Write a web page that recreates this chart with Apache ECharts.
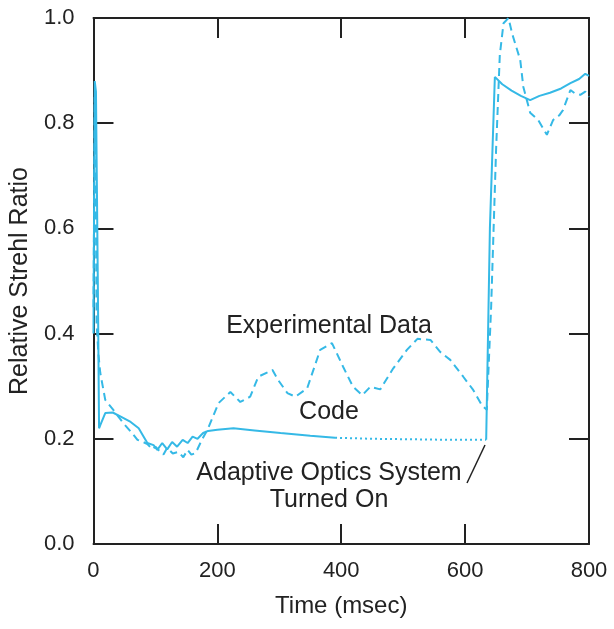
<!DOCTYPE html>
<html>
<head>
<meta charset="utf-8">
<script src="https://cdn.jsdelivr.net/npm/echarts@6/dist/echarts.min.js"></script>
<style>
html,body{margin:0;padding:0;background:#fff;}
#chart{width:614px;height:629px;}
</style>
</head>
<body>
<div id="chart"></div>
<script>
// ---- data ----
const codeT = [0, 2, 4, 7, 9, 11, 19, 31, 44, 60, 73, 81, 87, 97, 103, 111, 119, 127, 135, 144, 152, 160, 168, 177, 185, 200, 226, 260, 302, 350, 390, 450, 520, 580, 634, 640, 648, 660, 675, 690, 705, 720, 737, 755, 770, 784, 794, 800];
const codeV = [0.40, 0.88, 0.86, 0.50, 0.22, 0.226, 0.249, 0.25, 0.242, 0.232, 0.22, 0.204, 0.192, 0.188, 0.179, 0.192, 0.18, 0.194, 0.185, 0.198, 0.192, 0.204, 0.20, 0.211, 0.215, 0.217, 0.22, 0.216, 0.211, 0.206, 0.202, 0.200, 0.199, 0.198, 0.198, 0.6, 0.888, 0.874, 0.862, 0.852, 0.844, 0.852, 0.858, 0.866, 0.876, 0.884, 0.894, 0.89];
// code prediction is drawn dotted between these times
const codeDottedFrom = 390;
const codeDottedTo = 634;

const expT = [0, 2, 4, 5, 8, 11, 19, 32, 48, 63, 71, 80, 87, 95, 100, 108, 113, 119, 128, 137, 145, 152, 158, 165, 175, 184, 202, 221, 237, 253, 266, 289, 298, 313, 326, 345, 366, 385, 403, 419, 434, 447, 463, 484, 506, 523, 544, 560, 576, 597, 613, 627, 635, 642, 650, 656, 662, 670, 676, 689, 694, 705, 718, 732, 742, 752, 758, 770, 777, 786, 794, 800];
const expV = [0.45, 0.85, 0.62, 0.42, 0.36, 0.325, 0.274, 0.255, 0.23, 0.21, 0.198, 0.194, 0.19, 0.18, 0.185, 0.175, 0.17, 0.183, 0.172, 0.175, 0.165, 0.179, 0.17, 0.173, 0.198, 0.217, 0.268, 0.289, 0.27, 0.28, 0.318, 0.331, 0.312, 0.287, 0.28, 0.296, 0.369, 0.382, 0.337, 0.299, 0.283, 0.299, 0.294, 0.334, 0.369, 0.39, 0.388, 0.365, 0.35, 0.318, 0.293, 0.264, 0.255, 0.45, 0.75, 0.93, 0.99, 1.0, 0.97, 0.92, 0.869, 0.82, 0.806, 0.778, 0.806, 0.815, 0.825, 0.863, 0.857, 0.854, 0.86, 0.85];

const xTicks = [0, 200, 400, 600, 800];
const yTicks = [0.0, 0.2, 0.4, 0.6, 0.8, 1.0];

const labels = {
  exp: 'Experimental Data',
  code: 'Code',
  ao1: 'Adaptive Optics System',
  ao2: 'Turned On',
  xName: 'Time (msec)',
  yName: 'Relative Strehl Ratio'
};

// ---- build ----
const C = '#35b9e6';
const INK = '#222';
const FONT = 'Liberation Sans, Arial, sans-serif';

function pairs(t, v, lo, hi) {
  const out = [];
  for (let i = 0; i < t.length; i++) if (t[i] >= lo && t[i] <= hi) out.push([t[i], v[i]]);
  return out;
}

const chart = echarts.init(document.getElementById('chart'));

const axisCommon = {
  axisLine: { show: true, onZero: false, lineStyle: { color: INK, width: 2 } },
  axisTick: { show: true, inside: true, length: 20, lineStyle: { color: INK, width: 2 } },
  splitLine: { show: false }
};

chart.setOption({
  animation: false,
  backgroundColor: '#fff',
  grid: { left: 93, right: 25, top: 18, bottom: 85 },
  xAxis: [
    Object.assign({
      type: 'value', min: xTicks[0], max: xTicks[xTicks.length - 1], interval: xTicks[1] - xTicks[0],
      position: 'bottom',
      name: labels.xName, nameLocation: 'middle', nameGap: 50,
      nameTextStyle: { fontFamily: FONT, fontSize: 24, color: INK },
      axisLabel: { fontFamily: FONT, fontSize: 22, color: INK, margin: 16 }
    }, axisCommon),
    Object.assign({
      type: 'value', min: xTicks[0], max: xTicks[xTicks.length - 1], interval: xTicks[1] - xTicks[0],
      position: 'top', axisLabel: { show: false }
    }, axisCommon)
  ],
  yAxis: [
    Object.assign({
      type: 'value', min: yTicks[0], max: yTicks[yTicks.length - 1], interval: 0.2,
      position: 'left',
      name: labels.yName, nameLocation: 'middle', nameGap: 55,
      nameTextStyle: { fontFamily: FONT, fontSize: 25, color: INK },
      axisLabel: { fontFamily: FONT, fontSize: 22, color: INK, margin: 19, formatter: v => v.toFixed(1) }
    }, axisCommon),
    Object.assign({
      type: 'value', min: yTicks[0], max: yTicks[yTicks.length - 1], interval: 0.2,
      position: 'right', axisLabel: { show: false }
    }, axisCommon)
  ],
  series: [
    {
      type: 'line', data: pairs(codeT, codeV, -Infinity, codeDottedFrom), symbol: 'none',
      lineStyle: { color: C, width: 2 }, clip: true
    },
    {
      type: 'line', data: pairs(codeT, codeV, codeDottedFrom, codeDottedTo), symbol: 'none',
      lineStyle: { color: C, width: 2, type: [2, 3] }, clip: true
    },
    {
      type: 'line', data: pairs(codeT, codeV, codeDottedTo, Infinity), symbol: 'none',
      lineStyle: { color: C, width: 2 }, clip: true
    },
    {
      type: 'line', data: pairs(expT, expV, -Infinity, Infinity), symbol: 'none',
      lineStyle: { color: C, width: 2, type: [8, 5] }, clip: true
    }
  ],
  graphic: [
    { type: 'text', x: 329, y: 326, style: { text: labels.exp, font: '25px ' + FONT, fill: INK, align: 'center', verticalAlign: 'middle' } },
    { type: 'text', x: 329, y: 412, style: { text: labels.code, font: '25px ' + FONT, fill: INK, align: 'center', verticalAlign: 'middle' } },
    { type: 'text', x: 329, y: 473, style: { text: labels.ao1, font: '25px ' + FONT, fill: INK, align: 'center', verticalAlign: 'middle' } },
    { type: 'text', x: 329, y: 500, style: { text: labels.ao2, font: '25px ' + FONT, fill: INK, align: 'center', verticalAlign: 'middle' } },
    { type: 'line', shape: { x1: 467, y1: 483, x2: 485, y2: 445 }, style: { stroke: INK, lineWidth: 1.5 } }
  ]
});
</script>
</body>
</html>
